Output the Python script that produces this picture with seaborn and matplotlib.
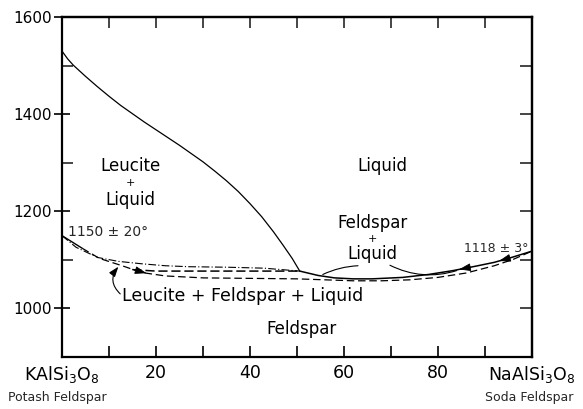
import matplotlib
matplotlib.use("Agg")
import numpy as np
import pandas as pd
import matplotlib.pyplot as plt
import seaborn as sns
from matplotlib.transforms import blended_transform_factory

# Phase diagram KAlSi3O8 - NaAlSi3O8 (weight %), temperatures in deg C
leucite_liquidus_x = [0, 1.2, 2.4, 5, 7.5, 10, 12.5, 15, 17.5, 20, 22.5, 25, 27.5, 30,
                      32.5, 35, 37.5, 40, 42.5, 45, 47, 49, 50.6]
leucite_liquidus_T = [1530, 1514, 1501, 1478, 1457, 1437, 1418, 1401, 1384, 1368, 1352, 1336,
                      1319, 1302, 1283, 1263, 1241, 1216, 1189, 1158, 1131, 1103, 1077]

feldspar_liquidus_x = [50.6, 54.5, 58, 62, 66, 72.5, 78, 83.2, 88, 92, 96, 100]
feldspar_liquidus_T = [1077, 1068, 1063, 1061, 1061, 1064, 1070, 1078, 1087, 1095, 1106, 1118]

solidus_x = [0, 4.3, 8, 12.8, 17, 22, 30, 40, 50, 56, 62, 68, 74, 80, 86, 92, 96, 100]
solidus_T = [1150, 1124, 1103, 1088, 1074, 1067, 1063, 1062, 1061, 1059, 1057, 1057, 1059, 1064, 1073, 1088, 1101, 1118]

upper_boundary_x = [0, 3, 7.6, 12, 17, 22, 27, 35, 43, 50.6]
upper_boundary_T = [1150, 1126, 1105, 1097, 1092, 1088, 1086, 1085, 1083, 1077]

middle_boundary_x = [15, 20, 30, 40, 50.6]
middle_boundary_T = [1080, 1077, 1077, 1077, 1077]

x_ticks = [0, 20, 40, 60, 80, 100]
x_tick_labels = [r"KAlSi$_3$O$_8$", "20", "40", "60", "80", r"NaAlSi$_3$O$_8$"]
x_minor_ticks = [10, 30, 50, 70, 90]
y_ticks = [1000, 1200, 1400, 1600]
y_tick_labels = ["1000", "1200", "1400", "1600"]
y_minor_ticks = [1100, 1300, 1500]

sns.set_theme(style="ticks")
plt.rcParams["font.family"] = ["DejaVu Sans"]
plt.rcParams["axes.edgecolor"] = "black"

fig = plt.figure(figsize=(5.83, 4.09), dpi=100)
ax = fig.add_axes([0.1063, 0.127, 0.806, 0.8313])

def curve(xs, ts, **kw):
    df = pd.DataFrame({"x": xs, "T": ts})
    sns.lineplot(data=df, x="x", y="T", ax=ax, color="black", sort=False,
                 estimator=None, legend=False, **kw)

curve(leucite_liquidus_x, leucite_liquidus_T, linewidth=0.9)
curve(feldspar_liquidus_x, feldspar_liquidus_T, linewidth=1.1)
curve(solidus_x[:2], solidus_T[:2], linewidth=1.0)
curve(solidus_x[1:], solidus_T[1:], linewidth=0.9, linestyle=(0, (6, 3)))
curve(upper_boundary_x, upper_boundary_T, linewidth=0.8, linestyle=(0, (7, 2, 1, 2)))
curve(middle_boundary_x, middle_boundary_T, linewidth=1.1, linestyle=(0, (6, 2.5)))

ax.set_xlim(0, 100)
ax.set_ylim(900, 1600)
ax.set_xlabel("")
ax.set_ylabel("")

ax.set_xticks(x_ticks)
ax.set_xticklabels(x_tick_labels)
ax.set_xticks(x_minor_ticks, minor=True)
ax.set_yticks(y_ticks)
ax.set_yticklabels(y_tick_labels)
ax.set_yticks(y_minor_ticks, minor=True)

ax.tick_params(axis="x", which="both", direction="in", length=8, width=1.2,
               labelsize=12.5, pad=5, colors="black")
ax.tick_params(axis="y", which="major", direction="inout", length=12, width=1.2,
               labelsize=11, pad=1, colors="black")
ax.tick_params(axis="y", which="minor", direction="in", length=8, width=1.2)
for s in ax.spines.values():
    s.set_linewidth(1.6)
    s.set_color("black")

sec_y = ax.secondary_yaxis("right")
sec_y.set_yticks(y_minor_ticks + y_ticks)
sec_y.tick_params(direction="in", length=9, width=1.2, labelright=False)
sec_y.spines["right"].set_linewidth(1.6)
sec_x = ax.secondary_xaxis("top")
sec_x.set_xticks(x_minor_ticks + [20, 40, 60, 80])
sec_x.tick_params(direction="in", length=8, width=1.2, labeltop=False)
sec_x.spines["top"].set_linewidth(1.6)

# Field labels
lab = dict(ha="center", va="center", color="black")
ax.text(14.5, 1293, "Leucite", fontsize=12, **lab)
ax.text(14.5, 1258, "+", fontsize=8, **lab)
ax.text(14.5, 1223, "Liquid", fontsize=12, **lab)
ax.text(68.1, 1293, "Liquid", fontsize=12, **lab)
ax.text(66, 1175, "Feldspar", fontsize=12, **lab)
ax.text(66, 1143, "+", fontsize=8, **lab)
ax.text(66, 1113, "Liquid", fontsize=12, **lab)
ax.text(38.5, 1025, "Leucite + Feldspar + Liquid", fontsize=12.5, **lab)
ax.text(50.9, 957, "Feldspar", fontsize=12, **lab)
ax.text(1.3, 1158, "1150 ± 20°", fontsize=10, ha="left", va="center")
ax.text(99.3, 1124, "1118 ± 3°", fontsize=9, ha="right", va="center")

# End-member names under the axis
tr = blended_transform_factory(ax.transData, ax.transAxes)
ax.text(-1.0, -0.118, "Potash Feldspar", fontsize=9, ha="center", va="center",
        transform=tr, clip_on=False)
ax.text(99.5, -0.118, "Soda Feldspar", fontsize=9, ha="center", va="center",
        transform=tr, clip_on=False)

# Leader lines
ax.annotate("", xy=(12.0, 1086), xytext=(12.4, 1030),
            arrowprops=dict(arrowstyle="-|>,head_length=0.5,head_width=0.18",
                            color="black", lw=0.8, shrinkA=0, shrinkB=0,
                            connectionstyle="arc3,rad=-0.45"))
ax.annotate("", xy=(55.5, 1070), xytext=(63.0, 1088),
            arrowprops=dict(arrowstyle="-", color="black", lw=0.8,
                            shrinkA=0, shrinkB=0,
                            connectionstyle="arc3,rad=0.1"))
ax.annotate("", xy=(84.0, 1078), xytext=(69.8, 1089),
            arrowprops=dict(arrowstyle="-", color="black", lw=0.8,
                            shrinkA=0, shrinkB=0,
                            connectionstyle="arc3,rad=0.2"))

# Direction arrows along the boundary curves
def head(xs, ts, x_from, x_to):
    y_from = np.interp(x_from, xs, ts)
    y_to = np.interp(x_to, xs, ts)
    ax.annotate("", xy=(x_to, y_to), xytext=(x_from, y_from),
                arrowprops=dict(arrowstyle="-|>,head_length=0.6,head_width=0.2",
                                color="black", lw=0.6, shrinkA=0, shrinkB=0))

head(solidus_x, solidus_T, 15.0, 18.0)
head(feldspar_liquidus_x, feldspar_liquidus_T, 87.0, 84.5)
head(feldspar_liquidus_x, feldspar_liquidus_T, 95.5, 93.0)

fig.savefig("out.png", dpi=100, facecolor="white")
